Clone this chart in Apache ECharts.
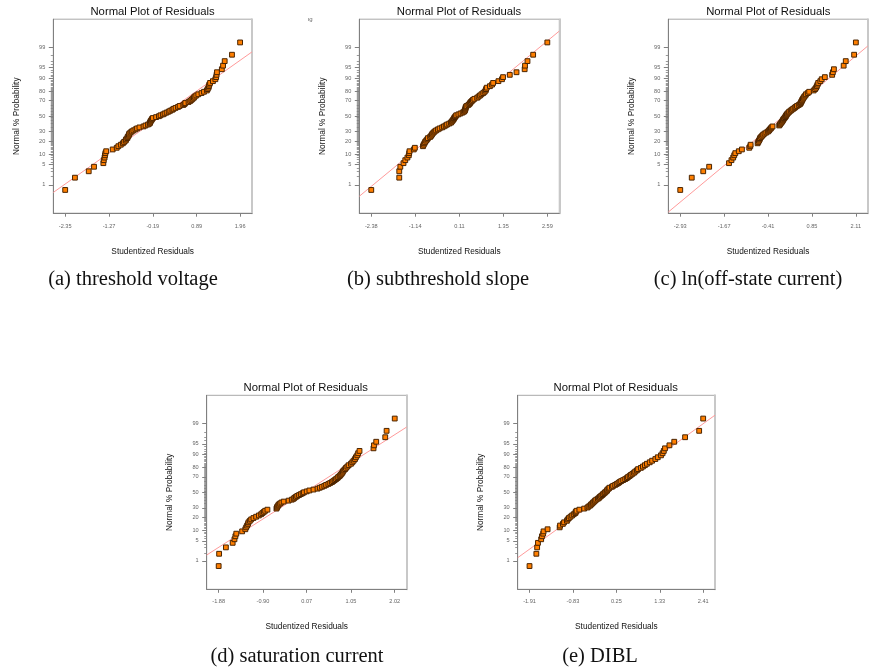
<!DOCTYPE html>
<html><head><meta charset="utf-8">
<script src="https://cdn.jsdelivr.net/npm/echarts@6/dist/echarts.min.js"></script>
<style>html,body{margin:0;padding:0;background:#fff}#c{width:869px;height:672px}</style>
</head><body><div id="c"></div>
<script>
// ---- data (sorted studentized residuals) ----
const resA = [-2.35,-2.11,-1.77,-1.64,-1.41,-1.40,-1.38,-1.37,-1.36,-1.34,-1.18,-1.08,-1.04,-0.98,-0.93,-0.90,-0.86,-0.85,-0.82,-0.81,-0.79,-0.78,-0.77,-0.74,-0.71,-0.67,-0.62,-0.58,-0.52,-0.42,-0.37,-0.31,-0.27,-0.26,-0.25,-0.24,-0.22,-0.21,-0.19,-0.11,-0.04,0.00,0.06,0.10,0.15,0.20,0.24,0.29,0.32,0.37,0.43,0.47,0.56,0.59,0.61,0.69,0.73,0.76,0.79,0.82,0.84,0.88,0.93,1.01,1.07,1.14,1.16,1.18,1.19,1.20,1.22,1.29,1.35,1.37,1.38,1.39,1.51,1.54,1.58,1.76,1.96];
const resB = [-2.38,-1.59,-1.59,-1.56,-1.47,-1.42,-1.36,-1.32,-1.31,-1.30,-1.18,-1.15,-0.92,-0.90,-0.88,-0.86,-0.83,-0.80,-0.78,-0.72,-0.69,-0.67,-0.65,-0.62,-0.59,-0.55,-0.50,-0.45,-0.38,-0.33,-0.28,-0.24,-0.18,-0.13,-0.11,-0.09,-0.07,-0.05,-0.04,-0.02,0.00,0.02,0.08,0.14,0.20,0.24,0.26,0.27,0.28,0.28,0.29,0.31,0.36,0.39,0.41,0.43,0.46,0.49,0.53,0.61,0.65,0.69,0.73,0.78,0.82,0.85,0.86,0.88,0.97,1.03,1.06,1.21,1.31,1.34,1.53,1.72,1.95,1.96,2.03,2.19,2.59];
const resC = [-2.93,-2.60,-2.27,-2.10,-1.53,-1.46,-1.41,-1.38,-1.35,-1.25,-1.16,-0.95,-0.92,-0.91,-0.71,-0.69,-0.67,-0.65,-0.64,-0.61,-0.58,-0.55,-0.51,-0.46,-0.41,-0.38,-0.36,-0.33,-0.31,-0.28,-0.09,-0.07,-0.05,-0.03,-0.01,0.01,0.02,0.04,0.06,0.08,0.10,0.11,0.13,0.15,0.18,0.20,0.24,0.27,0.31,0.35,0.38,0.42,0.47,0.51,0.53,0.54,0.56,0.57,0.59,0.61,0.63,0.66,0.68,0.73,0.77,0.90,0.94,0.97,0.99,1.01,1.03,1.09,1.13,1.22,1.43,1.45,1.48,1.76,1.82,2.06,2.11];
const resD = [-1.88,-1.87,-1.72,-1.57,-1.53,-1.51,-1.49,-1.36,-1.29,-1.27,-1.25,-1.23,-1.22,-1.19,-1.16,-1.11,-1.05,-0.99,-0.94,-0.91,-0.88,-0.85,-0.80,-0.60,-0.59,-0.58,-0.56,-0.55,-0.52,-0.49,-0.44,-0.33,-0.26,-0.22,-0.20,-0.17,-0.14,-0.10,-0.06,-0.02,0.01,0.07,0.13,0.22,0.31,0.36,0.41,0.46,0.50,0.55,0.59,0.63,0.66,0.69,0.72,0.75,0.77,0.80,0.82,0.84,0.86,0.87,0.89,0.92,0.94,0.97,1.00,1.05,1.08,1.11,1.14,1.16,1.19,1.21,1.24,1.55,1.56,1.61,1.81,1.84,2.02];
const resE = [-1.91,-1.74,-1.72,-1.70,-1.62,-1.60,-1.57,-1.56,-1.46,-1.16,-1.15,-1.08,-1.05,-0.98,-0.96,-0.93,-0.89,-0.85,-0.81,-0.77,-0.76,-0.74,-0.67,-0.55,-0.47,-0.44,-0.40,-0.38,-0.35,-0.33,-0.30,-0.28,-0.25,-0.21,-0.18,-0.16,-0.13,-0.10,-0.08,-0.05,-0.03,0.00,0.02,0.03,0.06,0.08,0.14,0.17,0.22,0.26,0.30,0.33,0.37,0.42,0.47,0.51,0.54,0.58,0.61,0.65,0.69,0.72,0.76,0.79,0.86,0.91,0.96,1.01,1.08,1.14,1.22,1.28,1.36,1.40,1.43,1.46,1.57,1.69,1.96,2.31,2.41];

// x tick labels
const ticksA = ['-2.35','-1.27','-0.19','0.89','1.96'];
const ticksB = ['-2.38','-1.14','0.11','1.35','2.59'];
const ticksC = ['-2.93','-1.67','-0.41','0.85','2.11'];
const ticksD = ['-1.88','-0.90','0.07','1.05','2.02'];
const ticksE = ['-1.91','-0.83','0.25','1.33','2.41'];

// reference lines: [residual, normal % probability] pairs
const lineA = [[-2.654, 0.47], [2.25, 98.53]];
const lineB = [[-2.708, 0.34], [2.918, 99.80]];
const lineC = [[-3.26, 0.06], [2.42, 99.06]];
const lineD = [[-2.138, 1.70], [2.285, 98.66]];
const lineE = [[-2.173, 1.43], [2.699, 99.55]];

// probability axis labels
const probTicks = [1, 5, 10, 20, 30, 50, 70, 80, 90, 95, 99];
const plotTitle = 'Normal Plot of Residuals';
const xName = 'Studentized Residuals';
const yName = 'Normal % Probability';
const captions = ['(a) threshold voltage', '(b) subthreshold slope', '(c) ln(off-state current)', '(d) saturation current', '(e) DIBL'];

// ---- inverse standard normal CDF (probit scale) ----
function qnorm(p){
  const a=[-3.969683028665376e+01,2.209460984245205e+02,-2.759285104469687e+02,1.383577518672690e+02,-3.066479806614716e+01,2.506628277459239e+00];
  const b=[-5.447609879822406e+01,1.615858368580409e+02,-1.556989798598866e+02,6.680131188771972e+01,-1.328068155288572e+01];
  const c=[-7.784894002430293e-03,-3.223964580411365e-01,-2.400758277161838e+00,-2.549732539343734e+00,4.374664141464968e+00,2.938163982698783e+00];
  const d=[7.784695709041462e-03,3.224671290700398e-01,2.445134137142996e+00,3.754408661907416e+00];
  const pl=0.02425, ph=1-pl; let q, r;
  if(p<pl){q=Math.sqrt(-2*Math.log(p));return (((((c[0]*q+c[1])*q+c[2])*q+c[3])*q+c[4])*q+c[5])/((((d[0]*q+d[1])*q+d[2])*q+d[3])*q+1);}
  if(p>ph){q=Math.sqrt(-2*Math.log(1-p));return -(((((c[0]*q+c[1])*q+c[2])*q+c[3])*q+c[4])*q+c[5])/((((d[0]*q+d[1])*q+d[2])*q+d[3])*q+1);}
  q=p-0.5; r=q*q;
  return (((((a[0]*r+a[1])*r+a[2])*r+a[3])*r+a[4])*r+a[5])*q/(((((b[0]*r+b[1])*r+b[2])*r+b[3])*r+b[4])*r+1);
}

const panels = [
  {res:resA, ticks:ticksA, line:lineA, g:{left:53.3, top:19.2, width:198.7, height:194}, title:[152.6,11.7], cap:[133,280], xGap:34.5, xMargin:10},
  {res:resB, ticks:ticksB, line:lineB, g:{left:359.3, top:19.2, width:200, height:194}, title:[459,11.7], cap:[438,280], xGap:34.5, xMargin:10},
  {res:resC, ticks:ticksC, line:lineC, g:{left:668.3, top:19.2, width:199.5, height:194}, title:[768.3,11.7], cap:[748,280], xGap:34.5, xMargin:10},
  {res:resD, ticks:ticksD, line:lineD, g:{left:206.7, top:395.3, width:200, height:194}, title:[305.7,388.3], cap:[297,657], xGap:33, xMargin:9},
  {res:resE, ticks:ticksE, line:lineE, g:{left:517.7, top:395.3, width:197.3, height:194}, title:[615.7,388.3], cap:[600,657], xGap:33, xMargin:9}
];

const ZMAX = qnorm(0.9995);
const majorZ = probTicks.map(p => qnorm(p/100));
const minorZ = []; for (let p = 1; p <= 99; p++) minorZ.push(qnorm(p/100));
const FONT = 'Liberation Sans';

const grid = [], xAxis = [], yAxis = [], series = [], graphic = [];
panels.forEach((P, k) => {
  grid.push(Object.assign({show:true, borderColor:'#a8a8a8', borderWidth:1, backgroundColor:'transparent'}, P.g));
  const lo = P.res[0], hi = P.res[P.res.length-1], pad = 0.068*(hi-lo);
  const xmin = lo - pad, xmax = hi + pad;
  const tv = P.ticks.map(Number);
  xAxis.push({gridIndex:k, type:'value', min:xmin, max:xmax, position:'bottom',
    axisLine:{show:true, onZero:false, lineStyle:{color:'#808080', width:1}},
    axisTick:{show:true, inside:false, length:3.5, customValues:tv, lineStyle:{color:'#808080'}},
    axisLabel:{show:true, customValues:tv, margin:P.xMargin, fontSize:5.6, color:'#666', fontFamily:FONT,
      formatter: v => { const i = tv.findIndex(t => Math.abs(t-v) < 1e-9); return i >= 0 ? P.ticks[i] : ''; }},
    splitLine:{show:false},
    name:xName, nameLocation:'middle', nameGap:P.xGap, nameTextStyle:{fontSize:8.3, color:'#111', fontFamily:FONT}
  });
  const base = yAxis.length;
  yAxis.push({gridIndex:k, type:'value', min:-ZMAX, max:ZMAX, position:'left',
    axisLine:{show:true, onZero:false, lineStyle:{color:'#808080', width:1}},
    axisTick:{show:true, inside:false, length:4.5, customValues:majorZ, lineStyle:{color:'#808080'}},
    axisLabel:{show:true, customValues:majorZ, margin:8, fontSize:5.6, color:'#666', fontFamily:FONT,
      formatter: v => { const i = majorZ.findIndex(t => Math.abs(t-v) < 1e-9); return i >= 0 ? String(probTicks[i]) : ''; }},
    splitLine:{show:false},
    name:yName, nameLocation:'middle', nameGap:33, nameRotate:90, nameTextStyle:{fontSize:8.3, color:'#111', fontFamily:FONT}
  });
  yAxis.push({gridIndex:k, type:'value', min:-ZMAX, max:ZMAX, position:'left',
    axisLine:{show:false, onZero:false}, axisLabel:{show:false}, splitLine:{show:false},
    axisTick:{show:true, inside:false, length:2.5, customValues:minorZ, lineStyle:{color:'#808080', width:0.8}}
  });
  yAxis.push({gridIndex:k, type:'value', min:-ZMAX, max:ZMAX, position:'right',
    axisLine:{show:true, onZero:false, lineStyle:{color:'#c8c8c8', width:2}},
    axisTick:{show:false}, axisLabel:{show:false}, splitLine:{show:false}
  });
  // reference line, extended to the axis bounds
  const [p1, p2] = P.line;
  const z1 = qnorm(p1[1]/100), z2 = qnorm(p2[1]/100);
  const s = (z2 - z1)/(p2[0] - p1[0]);
  const lz = x => z1 + s*(x - p1[0]);
  series.push({type:'line', xAxisIndex:k, yAxisIndex:base, data:[[xmin, lz(xmin)], [xmax, lz(xmax)]],
    symbol:'none', silent:true, clip:true, z:2, lineStyle:{color:'#ff9a9a', width:1}});
  const n = P.res.length;
  series.push({type:'scatter', xAxisIndex:k, yAxisIndex:base, z:3,
    data:P.res.map((x, i) => [x, qnorm((i + 0.5)/n)]),
    symbol:'rect', symbolSize:4.8, itemStyle:{color:'#ff7f00', borderColor:'#4a2400', borderWidth:1, opacity:1}});
  graphic.push({type:'text', x:P.title[0], y:P.title[1], style:{text:plotTitle, font:'11.3px "Liberation Sans"', fill:'#111', align:'center', verticalAlign:'middle', textAlign:'center', textVerticalAlign:'middle'}});
  graphic.push({type:'text', x:P.cap[0], y:P.cap[1], style:{text:captions[k], font:'20.5px "Liberation Serif"', fill:'#111', align:'center', verticalAlign:'middle', textAlign:'center', textVerticalAlign:'middle'}});
});
graphic.push({type:'text', x:310, y:19, style:{text:'ıg', font:'6px "Liberation Sans"', fill:'#666', align:'center', verticalAlign:'middle'}});

const chart = echarts.init(document.getElementById('c'), null, {renderer:'canvas'});
chart.setOption({animation:false, backgroundColor:'#fff', grid, xAxis, yAxis, series, graphic, tooltip:{show:false}});
</script></body></html>
